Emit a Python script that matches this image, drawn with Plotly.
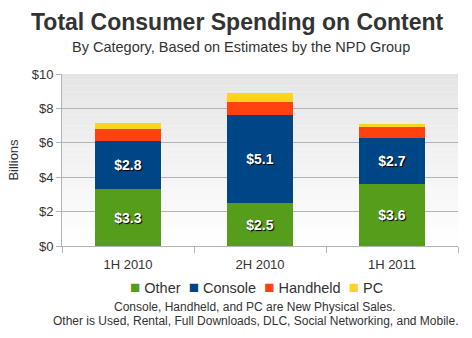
import plotly.graph_objects as go

categories = ["1H 2010", "2H 2010", "1H 2011"]
other = [3.3, 2.5, 3.6]
console = [2.8, 5.1, 2.7]
handheld = [0.7, 0.8, 0.6]
pc = [0.35, 0.5, 0.22]
series_names = ["Other", "Console", "Handheld", "PC"]
colors = ["#579D1C", "#004586", "#FF420E", "#FFD320"]
y_ticks = [0, 2, 4, 6, 8, 10]
y_tick_labels = ["$0", "$2", "$4", "$6", "$8", "$10"]

FONT = "Liberation Sans, Arial, sans-serif"

fig = go.Figure()
series_vals = [other, console, handheld, pc]
for i, (name, vals, col) in enumerate(zip(series_names, series_vals, colors)):
    show_text = i < 2
    fig.add_trace(go.Bar(
        x=categories, y=vals, name=name,
        marker=dict(color=col, line=dict(width=0)),
        text=[f"${v:.1f}" for v in vals] if show_text else None,
        textposition="inside" if show_text else "none",
        insidetextanchor="middle",
        textfont=dict(family=FONT, size=14, color="white", weight="bold",
                      shadow="1px 1px 1px #000"),
        hoverinfo="skip",
        showlegend=False,
    ))

# background gradient in plot area
n = 30
for k in range(n):
    t = k / n
    g = int(255 - (255 - 229) * t)
    fig.add_shape(type="rect", xref="x domain", yref="y domain",
                  x0=0, x1=1, y0=t, y1=(k + 1) / n,
                  fillcolor=f"rgb({g},{g},{g})", line=dict(width=0), layer="below")

# compact legend built from the series names and colours
legend_parts = [f'<span style="color:{c};font-size:17px">■</span> {nm}'
                for nm, c in zip(series_names, colors)]
legend_text = "&nbsp;&nbsp;".join(legend_parts)

fig.update_layout(
    barmode="stack",
    bargap=0.5,
    width=472, height=338,
    margin=dict(l=62, r=14, t=74, b=92),
    paper_bgcolor="white",
    plot_bgcolor="rgba(0,0,0,0)",
    font=dict(family=FONT, color="#333333"),
    showlegend=False,
    xaxis=dict(showgrid=False, ticks="outside", tickson="boundaries", ticklen=6,
               tickcolor="#b3b3b3", showline=True, linecolor="#b3b3b3",
               tickfont=dict(size=13, color="#333333"), fixedrange=True,
               ticklabelstandoff=6),
    yaxis=dict(range=[0, 10], tickvals=y_ticks, ticktext=y_tick_labels,
               showgrid=True, gridcolor="#b3b3b3", ticks="outside", ticklen=5,
               tickcolor="#b3b3b3", showline=True, linecolor="#b3b3b3",
               tickfont=dict(size=13, color="#333333"), zeroline=False,
               title=dict(text="Billions", font=dict(size=13, color="#333333"), standoff=10)),
    annotations=[
        dict(text="<b>Total Consumer Spending on Content</b>", xref="paper", yref="paper",
             x=0.443, y=1.302, showarrow=False, font=dict(size=23, color="#333333"),
             xanchor="center", yanchor="middle"),
        dict(text="By Category, Based on Estimates by the NPD Group", xref="paper", yref="paper",
             x=0.452, y=1.157, showarrow=False, font=dict(size=14.5, color="#333333"),
             xanchor="center", yanchor="middle"),
        dict(text=legend_text, xref="paper", yref="paper",
             x=0.49, y=-0.242, showarrow=False, font=dict(size=14.5, color="#333333"),
             xanchor="center", yanchor="middle"),
        dict(text="Console, Handheld, and PC are New Physical Sales.", xref="paper", yref="paper",
             x=0.487, y=-0.356, showarrow=False, font=dict(size=12, color="#333333"),
             xanchor="center", yanchor="middle"),
        dict(text="Other is Used, Rental, Full Downloads, DLC, Social Networking, and Mobile.",
             xref="paper", yref="paper",
             x=0.49, y=-0.436, showarrow=False, font=dict(size=12, color="#333333"),
             xanchor="center", yanchor="middle"),
    ],
)

fig.write_html("out.html")
